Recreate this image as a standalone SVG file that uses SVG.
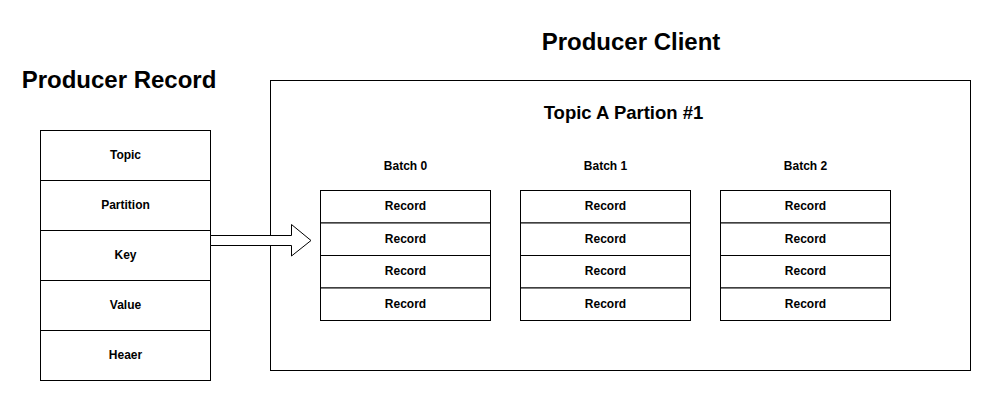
<svg xmlns="http://www.w3.org/2000/svg" width="991" height="401" viewBox="0 0 991 401">
<style>
.box{fill:#fff;stroke:#000;stroke-width:1}
.t{font-family:"Liberation Sans",Arial,Helvetica,sans-serif;font-weight:bold;fill:#000;text-anchor:middle}
.s{font-size:12px}
.h{font-size:24px}
.m{font-size:18.5px}
</style>
<rect width="991" height="401" fill="#fff"/>
<text class="t h" x="119" y="88">Producer Record</text>
<text class="t h" x="631" y="50">Producer Client</text>
<g id="record">
<rect class="box" x="40.5" y="130.5" width="170" height="50"/>
<rect class="box" x="40.5" y="180.5" width="170" height="50"/>
<rect class="box" x="40.5" y="230.5" width="170" height="50"/>
<rect class="box" x="40.5" y="280.5" width="170" height="50"/>
<rect class="box" x="40.5" y="330.5" width="170" height="50"/>
<text class="t s" x="125.5" y="159">Topic</text>
<text class="t s" x="125.5" y="209">Partition</text>
<text class="t s" x="125.5" y="259">Key</text>
<text class="t s" x="125.5" y="309">Value</text>
<text class="t s" x="125.5" y="359">Heaer</text>
</g>
<g id="client">
<rect class="box" x="270.5" y="80.5" width="700" height="290"/>
<text class="t m" x="623.5" y="119">Topic A Partion #1</text>
</g>
<g id="batch0">
<text class="t s" x="405.5" y="169.5">Batch 0</text>
<rect class="box" x="320.5" y="190.5" width="170" height="32.5"/>
<rect class="box" x="320.5" y="223" width="170" height="32.5"/>
<rect class="box" x="320.5" y="255.5" width="170" height="32.5"/>
<rect class="box" x="320.5" y="288" width="170" height="32.5"/>
<text class="t s" x="405.5" y="210">Record</text>
<text class="t s" x="405.5" y="243">Record</text>
<text class="t s" x="405.5" y="275">Record</text>
<text class="t s" x="405.5" y="308">Record</text>
</g>
<g id="batch1">
<text class="t s" x="605.5" y="169.5">Batch 1</text>
<rect class="box" x="520.5" y="190.5" width="170" height="32.5"/>
<rect class="box" x="520.5" y="223" width="170" height="32.5"/>
<rect class="box" x="520.5" y="255.5" width="170" height="32.5"/>
<rect class="box" x="520.5" y="288" width="170" height="32.5"/>
<text class="t s" x="605.5" y="210">Record</text>
<text class="t s" x="605.5" y="243">Record</text>
<text class="t s" x="605.5" y="275">Record</text>
<text class="t s" x="605.5" y="308">Record</text>
</g>
<g id="batch2">
<text class="t s" x="805.5" y="169.5">Batch 2</text>
<rect class="box" x="720.5" y="190.5" width="170" height="32.5"/>
<rect class="box" x="720.5" y="223" width="170" height="32.5"/>
<rect class="box" x="720.5" y="255.5" width="170" height="32.5"/>
<rect class="box" x="720.5" y="288" width="170" height="32.5"/>
<text class="t s" x="805.5" y="210">Record</text>
<text class="t s" x="805.5" y="243">Record</text>
<text class="t s" x="805.5" y="275">Record</text>
<text class="t s" x="805.5" y="308">Record</text>
</g>
<g id="connectors">
<path d="M210.5 235.5 L291.5 235.5 L291.5 224.5 L311 240.5 L291.5 256 L291.5 245.5 L210.5 245.5 Z" fill="#fff" stroke="#000" stroke-width="1"/>
</g>
</svg>
